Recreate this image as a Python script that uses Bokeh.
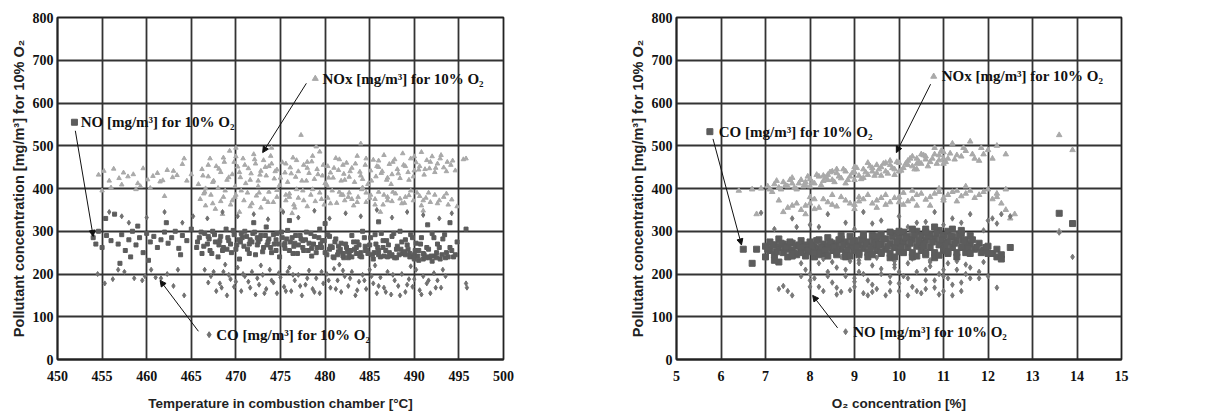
from bokeh.plotting import figure
from bokeh.layouts import row
from bokeh.models import Arrow, NormalHead, Label, SingleIntervalTicker, Range1d
from bokeh.embed import file_html
from bokeh.resources import INLINE

# ---------------- Left chart data (temperature in combustion chamber) ----------------
L_NOX_T = [454.6,455.2,455.8,456.3,456.9,457.4,457.9,458.5,459.0,459.6,460.1,460.7,461.2,461.8,462.3,462.9,463.4,464.0,464.5,455.0,456.0,457.2,458.8,460.4,461.5,463.0,464.2,465.0,462.0,459.3,
           465.8,466.2,466.5,466.9,467.1,467.4,467.8,468.0,468.3,468.7,469.0,469.3,469.6,469.9,470.2,470.5,470.8,471.1,471.4,471.7,472.0,472.2,472.5,472.8,473.1,473.4,473.7,474.0,474.3,474.6,474.9,475.2,475.5,475.8,476.1,476.4,476.7,477.0,477.3,477.6,477.9,478.2,478.5,478.8,479.1,479.4,479.7,480.0,480.3,480.6,480.9,481.2,481.5,481.8,482.1,482.4,482.7,483.0,483.3,483.6,483.9,484.2,484.5,484.8,485.1,485.4,485.7,486.0,486.3,486.6,486.9,487.2,487.5,487.8,488.1,488.4,488.7,489.0,489.3,489.6,489.9,490.2,490.5,490.8,491.1,491.4,491.7,492.0,492.3,492.6,492.9,493.3,493.7,494.1,494.6,495.5,495.8,484.0,479.0,470.0,
           466.0,466.6,467.2,467.7,468.3,468.8,469.4,469.9,470.4,470.9,471.3,471.8,472.3,472.8,473.2,473.7,474.2,474.6,475.1,475.6,476.0,476.5,477.0,477.5,478.0,478.4,478.9,479.4,479.9,480.3,480.8,481.3,481.8,482.2,482.7,483.2,483.7,484.1,484.6,485.1,485.6,486.0,486.5,487.0,487.5,487.9,488.4,488.9,489.4,489.9,490.3,490.8,491.3,491.8,492.3,492.8,493.3,493.8,494.2,494.8,468.5,476.3,486.2,491.0]
L_NOX_V = [432,441,418,446,424,437,428,433,412,447,421,429,436,419,443,426,431,457,418,395,402,409,398,401,416,441,470,433,382,405,
           410,445,392,428,470,415,452,401,438,462,420,488,433,405,451,426,470,412,447,435,480,458,418,441,466,430,452,495,423,444,408,461,437,415,449,472,427,440,525,455,418,436,463,422,445,486,430,412,452,437,425,471,443,418,434,460,427,448,415,476,439,422,455,410,442,467,428,450,436,478,420,457,433,468,445,424,482,452,438,470,428,461,444,485,432,466,447,475,438,458,470,449,462,455,442,468,470,505,498,495,
           375,360,385,352,370,395,362,380,345,372,390,365,383,355,375,392,368,380,350,372,388,362,378,395,358,385,370,390,362,378,395,366,385,372,390,360,380,398,368,385,375,392,362,380,370,388,376,366,384,372,390,360,378,368,385,372,380,362,374,358,340,342,345,348]
L_NOX_MORE = [(466.3,430),(466.9,455),(467.5,418),(468.1,446),(468.6,472),(469.2,426),(469.8,462),(470.4,438),(471.0,455),(471.6,420),(472.1,468),(472.7,432),(473.3,450),(473.9,476),(474.4,440),(475.0,425),(475.6,458),(476.2,435),(476.8,466),(477.4,418),(478.0,448),(478.6,476),(479.2,433),(479.8,455),(480.4,425),(481.0,448),(481.6,468),(482.2,420),(482.8,440),(483.4,458),(484.0,430),(484.6,470),(485.2,418),(485.8,452),(486.4,440),(487.0,425),(487.6,462),(488.2,435),(488.8,455),(489.4,420),(490.0,475),(490.6,452),(491.2,445),(491.8,462),(492.4,448),(493.0,478),(493.6,440),(494.3,465),(470.0,475),(474.0,458),(478.0,462),(482.0,455),(486.0,465),(490.0,442),(472.5,405),(480.2,408),(487.4,410),(466.6,400),(476.8,398),(484.2,402),
              (466.4,388),(467.4,365),(468.6,380),(469.6,372),(470.6,395),(471.6,358),(472.6,390),(473.6,368),(474.6,396),(475.6,385),(476.6,355),(477.6,372),(478.6,398),(479.6,375),(480.6,365),(481.6,392),(482.6,380),(483.6,368),(484.6,390),(485.6,362),(486.6,385),(487.6,392),(488.6,365),(489.6,395),(490.6,382),(491.6,390),(492.6,365),(493.6,388),(483.0,375),(485.0,378),(487.0,372),(489.0,380),(491.0,372),(482.0,385),(476.0,380),(470.0,385)]

L_NO_T = [454.0,454.3,454.6,455.0,455.5,456.0,456.4,456.8,457.2,457.6,458.0,458.4,458.8,459.2,459.6,460.0,460.4,460.8,461.2,461.6,462.0,462.4,462.8,463.2,463.6,464.0,464.5,465.0,457.0,458.2,460.2,459.0,462.2,455.4,463.8,
          465.6,465.9,466.2,466.5,466.8,467.1,467.4,467.7,468.0,468.3,468.6,468.9,469.2,469.5,469.8,470.1,470.4,470.7,471.0,471.3,471.6,471.9,472.2,472.5,472.8,473.1,473.4,473.7,474.0,474.3,474.6,474.9,475.2,475.5,475.8,476.1,476.4,476.7,477.0,477.3,477.6,477.9,478.2,478.5,478.8,479.1,479.4,479.7,480.0,480.3,480.6,480.9,481.2,481.5,481.8,482.1,482.4,482.7,483.0,483.3,483.6,483.9,484.2,484.5,484.8,485.1,485.4,485.7,486.0,486.3,486.6,486.9,487.2,487.5,487.8,488.1,488.4,488.7,489.0,489.3,489.6,489.9,490.2,490.5,490.8,491.1,491.4,491.7,492.0,492.3,492.6,492.9,493.2,493.6,494.0,494.4,494.8,495.8,
          467.0,468.1,469.0,470.5,471.5,472.4,473.5,474.5,475.5,476.5,477.5,478.5,479.5,480.5,481.5,482.5,483.5,484.5,485.5,486.5,487.5,488.5,489.5,490.5,491.5,492.5,493.5,481.0,482.0,487.0,490.0,491.0,
          472.0,476.0,480.0,486.0,491.5,494.0]
L_NO_V = [285,270,300,262,290,278,340,270,292,255,280,300,268,285,250,295,275,288,262,280,298,272,285,300,260,290,278,305,225,240,232,312,320,330,245,
          262,285,248,295,270,255,300,275,240,288,262,305,278,250,292,268,235,285,300,258,280,295,245,275,290,262,310,282,250,270,295,240,285,260,302,275,248,290,268,282,255,298,272,242,288,262,305,278,250,292,265,240,282,252,272,238,262,245,290,258,275,242,300,265,248,285,235,270,255,295,242,278,250,288,238,265,300,248,280,258,292,240,272,232,285,245,262,238,295,242,270,235,282,250,262,240,275,305,
          282,268,258,275,270,285,268,280,272,265,278,260,270,258,265,252,262,255,250,262,245,258,248,255,240,250,238,238,248,240,245,235,
          320,325,318,322,315,320]
L_NO_MORE = [(465.7,275),(466.1,298),(466.4,265),(466.9,288),(467.3,248),(467.6,292),(468.2,278),(468.5,255),(469.1,285),(469.4,270),(469.7,302),(470.0,258),(470.3,280),(470.6,295),(470.9,265),(471.2,288),(471.5,248),(471.8,275),(472.1,298),(472.4,268),(472.7,282),(473.0,252),(473.3,290),(473.6,275),(473.9,262),(474.2,292),(474.5,255),(474.8,270),(475.1,298),(475.4,268),(475.7,282),(476.0,255),(476.3,285),(476.6,272),(476.9,248),(477.2,290),(477.5,262),(477.8,280),(478.1,255),(478.4,295),(478.7,270),(479.0,250),(479.3,285),(479.6,262),(479.9,278),(480.2,245),(480.5,288),(480.8,262),(481.1,275),(481.4,245),(481.7,258),(482.0,242),(482.3,270),(482.6,238),(482.9,255),(483.2,275),(483.5,248),(483.8,268),(484.1,240),(484.4,285),(484.7,255),(485.0,268),(485.3,245),(485.6,292),(485.9,262),(486.2,240),(486.5,278),(486.8,255),(487.1,268),(487.4,242),(487.7,295),(488.0,258),(488.3,245),(488.6,275),(488.9,252),(489.2,268),(489.5,240),(489.8,285),(490.1,255),(490.4,242),(490.7,270),(491.0,248),(491.3,238),(491.6,258),(491.9,242),(492.2,285),(492.5,238),(492.8,262),(493.1,245),(493.4,292),(493.8,240),(494.2,255),(494.6,245),(483.0,240),(484.0,250),(486.0,245),(488.0,238),(489.0,245),(490.0,235),(492.0,230)]

L_CO_T = [454.5,455.3,456.2,457.5,458.6,459.5,460.5,461.0,461.6,462.3,463.0,464.2,455.8,457.2,458.0,460.0,462.0,464.0,465.2,456.8,459.8,463.5,
          466.5,467.2,467.8,468.2,468.6,469.0,469.4,469.8,470.2,470.6,471.0,471.4,471.8,472.2,472.6,473.0,473.4,473.8,474.2,474.6,475.0,475.4,475.8,476.2,476.6,477.0,477.4,477.8,478.2,478.6,479.0,479.4,479.8,480.2,480.6,481.0,481.4,481.8,482.2,482.6,483.0,483.4,483.8,484.2,484.6,485.0,485.4,485.8,486.2,486.6,487.0,487.4,487.8,488.2,488.6,489.0,489.4,489.8,490.2,490.6,491.0,491.4,491.8,492.2,492.6,493.0,493.5,495.8,495.9,
          466.8,468.5,470.2,472.0,473.6,475.3,477.0,478.8,480.5,482.3,484.0,485.8,487.5,489.2,491.0,492.8,494.2]
L_CO_V = [200,178,188,205,190,185,210,192,190,200,172,150,345,335,320,332,345,320,335,210,195,210,
          210,195,160,178,205,150,188,170,215,160,195,182,205,152,175,198,165,210,180,155,192,170,205,160,185,198,150,175,208,165,190,155,178,200,168,212,185,158,195,172,205,150,182,198,165,210,178,155,192,168,205,152,185,172,200,158,188,170,210,162,195,178,155,202,185,168,195,178,168,
          330,345,335,340,328,345,332,348,330,342,335,350,332,345,338,330,342]
L_CO_MORE = [(466.9,180),(467.5,205),(468.4,168),(469.2,198),(470.0,182),(470.8,200),(471.6,168),(472.4,190),(473.2,155),(474.0,185),(474.8,202),(475.6,160),(476.4,198),(477.2,172),(478.0,190),(478.8,158),(479.6,205),(480.4,185),(481.2,165),(482.0,208),(482.8,190),(483.6,162),(484.4,185),(485.2,195),(486.0,172),(486.8,158),(487.6,198),(488.4,150),(489.2,175),(490.0,188),(490.8,152),(491.6,185),(492.4,168),(493.2,210),(481.6,222),(485.6,220),(489.6,218),(476.0,215),(472.8,220),(468.8,222)]

# ---------------- Right chart data (O2 concentration) ----------------
R_NOX_O = [6.9,7.1,7.2,7.3,7.4,7.5,7.6,7.7,7.8,7.9,8.0,8.1,8.2,8.3,8.4,8.5,8.6,8.7,8.8,8.9,9.0,9.1,9.2,9.3,9.4,9.5,9.6,9.7,9.8,9.9,10.0,10.1,10.2,10.3,10.4,10.5,10.6,10.7,10.8,10.9,11.0,11.1,11.3,11.5,11.7,11.9,8.0,8.5,9.0,9.5,10.0,10.5,7.6,8.3,9.2,9.8,10.3,10.8,11.2,11.6,12.0,12.2,13.6,13.9,8.8,9.6,10.4,11.0,11.4,11.8,12.4,6.4,6.7,
           7.4,7.6,7.8,8.0,8.2,8.4,8.6,8.8,9.0,9.2,9.4,9.6,9.8,10.0,10.2,10.4,10.6,10.8,11.0,11.2,11.4,11.6,11.8,12.0,12.2,12.4,12.3,12.4,12.5,12.6,8.5,9.1,9.7,10.3,10.9,11.5,8.1,7.9,7.3,6.8,9.5,10.1,10.7,11.3,12.1,13.6]
R_NOX_V = [400,398,410,402,415,405,412,398,420,408,422,412,428,418,432,420,436,424,440,428,438,430,445,432,448,436,450,440,455,445,460,448,465,452,470,458,475,462,480,466,485,470,478,488,470,480,405,440,420,455,440,480,425,430,425,465,475,495,505,510,490,500,525,490,412,430,445,458,475,465,480,395,398,
           345,360,350,365,355,368,358,372,362,375,365,378,368,380,370,385,374,388,378,392,382,395,385,398,388,398,365,350,330,340,385,380,385,395,400,405,375,340,372,340,355,362,360,370,375,300]
R_NOX_MORE = [(7.05,405),(7.15,392),(7.25,418),(7.35,398),(7.45,408),(7.55,420),(7.65,402),(7.75,412),(7.85,405),(7.95,428),(8.05,415),(8.15,432),(8.25,408),(8.35,425),(8.45,438),(8.55,415),(8.65,428),(8.75,445),(8.85,420),(8.95,436),(9.05,448),(9.15,422),(9.25,438),(9.35,452),(9.45,430),(9.55,445),(9.65,458),(9.75,435),(9.85,448),(9.95,462),(10.05,442),(10.15,458),(10.25,470),(10.35,445),(10.45,462),(10.55,478),(10.65,452),(10.75,470),(10.85,458),(10.95,488),(11.05,462),(11.15,482),(11.25,468),(11.45,495),(11.65,480),(11.85,495),(12.1,470),(8.4,420),(9.0,450),(9.4,440),(9.9,432),(10.2,455),(10.6,468),(11.0,470),(9.7,460),(10.9,478),(8.6,445),(9.3,460),(7.9,415),(10.4,458),
              (7.5,355),(7.7,365),(7.9,360),(8.1,352),(8.3,375),(8.5,362),(8.7,380),(8.9,365),(9.1,370),(9.3,385),(9.5,372),(9.7,362),(9.9,378),(10.1,390),(10.3,375),(10.5,388),(10.7,380),(10.9,392),(11.1,385),(11.3,395),(11.5,388),(11.7,378),(11.9,392),(12.2,380),(9.0,352),(10.0,368),(11.0,372),(8.0,380),(10.4,360)]

R_CO_O = [6.5,6.7,6.8,7.0,7.0,7.1,7.1,7.2,7.2,7.3,7.3,7.4,7.4,7.5,7.5,7.6,7.6,7.7,7.7,7.8,7.8,7.9,7.9,8.0,8.0,8.1,8.1,8.2,8.2,8.3,8.3,8.4,8.4,8.5,8.5,8.6,8.6,8.7,8.7,8.8,8.8,8.9,8.9,9.0,9.0,9.1,9.1,9.2,9.2,9.3,9.3,9.4,9.4,9.5,9.5,9.6,9.6,9.7,9.7,9.8,9.8,9.9,9.9,10.0,10.0,10.1,10.1,10.2,10.2,10.3,10.3,10.4,10.4,10.5,10.5,10.6,10.6,10.7,10.7,10.8,10.8,10.9,10.9,11.0,11.0,11.1,11.1,11.2,11.2,11.3,11.3,11.4,11.4,11.5,11.5,11.6,11.6,11.7,11.8,11.9,12.0,12.1,12.2,12.3,12.5,13.6,13.9,
          7.5,8.0,8.5,9.0,9.5,10.0,10.5,11.0,11.5,8.2,8.8,9.3,9.8,10.3,10.8,11.3,7.8,9.6,10.6,11.1,12.2,12.0,12.3,7.3]
R_CO_V = [258,225,258,265,240,275,255,268,245,262,282,250,270,258,240,272,255,265,245,278,258,268,242,275,252,262,240,280,258,270,248,265,285,255,272,245,268,282,258,275,250,265,288,255,278,245,268,285,260,275,250,290,265,280,255,270,292,258,282,248,272,295,262,285,252,275,298,262,288,250,280,300,265,290,255,278,305,262,292,250,282,302,268,290,255,275,300,262,288,250,278,295,262,280,250,270,290,258,272,255,265,248,258,245,262,342,318,
          265,262,262,265,268,270,272,272,265,245,240,240,238,240,238,240,250,248,245,248,240,248,235,228]
R_CO_MORE = [(7.05,258),(7.15,268),(7.25,252),(7.35,272),(7.45,262),(7.55,275),(7.65,248),(7.75,268),(7.85,262),(7.95,255),(8.05,268),(8.15,278),(8.25,262),(8.35,255),(8.45,275),(8.55,262),(8.65,280),(8.75,268),(8.85,255),(8.95,275),(9.05,262),(9.15,280),(9.25,270),(9.35,258),(9.45,278),(9.55,268),(9.65,282),(9.75,265),(9.85,288),(9.95,275),(10.05,262),(10.15,285),(10.25,272),(10.35,292),(10.45,278),(10.55,265),(10.65,288),(10.75,275),(10.85,295),(10.95,280),(11.05,265),(11.15,288),(11.25,272),(11.35,292),(11.45,278),(11.55,260),(11.65,280),(11.75,262),(11.85,250),(11.95,262),(8.1,250),(8.6,252),(9.1,250),(9.6,252),(10.1,250),(10.6,250),(11.1,252),(11.6,248),(8.4,242),(9.4,245),(10.4,242),(10.9,244),(9.9,240),(8.9,242),(7.6,242),(7.2,232),(9.2,292),(9.8,298),(10.3,305),(10.8,310),(11.2,305),(10.0,300),(10.6,298),(11.4,302),(8.7,290),(9.5,288)]

R_NO_O = [6.9,7.3,7.4,7.5,7.6,7.8,7.9,8.0,8.1,8.2,8.3,8.4,8.5,8.6,8.7,8.8,8.9,9.0,9.1,9.2,9.3,9.4,9.5,9.6,9.7,9.8,9.9,10.0,10.1,10.2,10.3,10.4,10.5,10.6,10.7,10.8,10.9,11.0,11.1,11.2,11.3,11.4,11.5,11.6,11.8,12.0,12.2,13.6,13.9,
          7.6,8.0,8.4,8.8,9.2,9.6,10.0,10.4,10.8,11.2,11.6,12.0,12.3,7.2,12.5,9.0,10.2,11.0,
          8.3,8.7,9.1,9.5,9.9,10.3,10.7,11.1,11.5,11.9,8.0,9.0,10.0,11.0,9.4,10.6,8.6,9.8,10.2,10.9,8.9,9.3]
R_NO_V = [343,165,172,160,150,195,210,170,190,225,160,205,180,215,158,195,230,170,205,155,185,220,165,200,150,180,215,160,195,225,170,205,155,185,218,168,200,160,190,150,210,180,200,215,190,195,168,297,240,
          330,315,340,320,345,325,335,320,345,330,340,325,340,305,335,305,310,315,
          235,240,232,238,230,236,232,225,222,228,200,190,205,210,175,165,168,160,150,152,162,150]
R_NO_MORE = [(7.8,225),(8.0,185),(8.2,170),(8.4,195),(8.6,152),(8.8,210),(9.0,182),(9.2,200),(9.4,158),(9.6,212),(9.8,195),(10.0,178),(10.2,190),(10.4,160),(10.6,210),(10.8,185),(11.0,195),(11.2,175),(11.4,160),(11.6,190),(11.8,205),(9.1,225),(9.9,222),(10.7,228),(8.5,228),(11.3,230),(8.2,310),(9.4,318),(10.6,322),(11.4,320),(12.1,330),(7.7,310),(11.9,302),(12.2,318)]

SUP_LABEL = "Pollutant concentration [mg/m³] for 10% O₂"

NOX_COLOR = "#a9a9a9"
NO_COLOR = "#5c5c5c"
CO_COLOR = "#707070"

SERIF = "Liberation Serif"
SANS = "Liberation Sans"


def merged(xs, ys, more):
    return list(xs) + [m[0] for m in more], list(ys) + [m[1] for m in more]


def base_fig(xr, xstep, frame_w, bl, br, xlabel):
    p = figure(frame_width=frame_w, frame_height=342, x_range=Range1d(*xr), y_range=Range1d(0, 800),
               output_backend="svg", toolbar_location=None,
               min_border_left=bl, min_border_right=br, min_border_top=17, min_border_bottom=46)
    p.xaxis.ticker = SingleIntervalTicker(interval=xstep)
    p.yaxis.ticker = SingleIntervalTicker(interval=100)
    p.xgrid.ticker = SingleIntervalTicker(interval=xstep)
    p.ygrid.ticker = SingleIntervalTicker(interval=100)
    for g in (p.xgrid, p.ygrid):
        g.grid_line_color = "#333333"
        g.grid_line_width = 1.8
    p.outline_line_color = "#222222"
    p.outline_line_width = 1.8
    for ax in (p.xaxis, p.yaxis):
        ax.axis_line_color = "#222222"
        ax.axis_line_width = 1.8
        ax.major_tick_in = 0
        ax.major_tick_out = 0
        ax.minor_tick_in = 0
        ax.minor_tick_out = 0
        ax.major_label_text_font = SERIF
        ax.major_label_text_font_style = "bold"
        ax.major_label_text_font_size = "14px"
        ax.major_label_text_color = "#111111"
        ax.axis_label_text_font = SANS
        ax.axis_label_text_font_style = "bold"
        ax.axis_label_text_color = "#222222"
    p.xaxis.axis_label_text_font_size = "13.5px"
    p.yaxis.axis_label_text_font_size = "14.5px"
    p.xaxis.axis_label = xlabel
    p.yaxis.axis_label = SUP_LABEL
    p.xaxis.major_label_standoff = 11
    p.xaxis.axis_label_standoff = 12
    p.yaxis.major_label_standoff = 4
    p.yaxis.axis_label_standoff = 3
    p.background_fill_color = "white"
    p.border_fill_color = "white"
    return p


def annotate(p, mx, my, marker, color, text, ax0, ay0, ax1, ay1, tx):
    p.scatter([mx], [my], marker=marker, size=6, color=color)
    p.add_layout(Label(x=tx, y=my, text=text, text_font=SERIF, text_font_style="bold",
                       text_font_size="15px", text_color="#111111", text_baseline="middle"))
    p.add_layout(Arrow(end=NormalHead(size=6, fill_color="#111111", line_color="#111111"),
                       x_start=ax0, y_start=ay0, x_end=ax1, y_end=ay1,
                       line_color="#111111", line_width=1))


# Left chart
p1 = base_fig((450, 500), 5, 446, 57, 108, "Temperature in combustion chamber [°C]")
x, y = merged(L_NOX_T, L_NOX_V, L_NOX_MORE)
p1.scatter(x, y, marker="triangle", size=4.5, color=NOX_COLOR)
x, y = merged(L_CO_T, L_CO_V, L_CO_MORE)
p1.scatter(x, y, marker="diamond", size=5, color=CO_COLOR)
x, y = merged(L_NO_T, L_NO_V, L_NO_MORE)
p1.scatter(x, y, marker="square", size=4, color=NO_COLOR)
annotate(p1, 451.9, 555, "square", NO_COLOR, "NO [mg/m³] for 10% O₂", 452.0, 535, 454.0, 288, 452.6)
annotate(p1, 478.9, 657, "triangle", NOX_COLOR, "NOx [mg/m³] for 10% O₂", 477.9, 646, 473.0, 484, 479.7)
annotate(p1, 467.0, 58, "diamond", CO_COLOR, "CO [mg/m³] for 10% O₂", 465.8, 66, 461.5, 185, 467.8)

# Right chart
p2 = base_fig((5, 15), 1, 445, 65, 88, "O₂ concentration [%]")
x, y = merged(R_NOX_O, R_NOX_V, R_NOX_MORE)
p2.scatter(x, y, marker="triangle", size=5.5, color=NOX_COLOR)
x, y = merged(R_NO_O, R_NO_V, R_NO_MORE)
p2.scatter(x, y, marker="diamond", size=5.5, color="#787878")
x, y = merged(R_CO_O, R_CO_V, R_CO_MORE)
p2.scatter(x, y, marker="square", size=6, color=NO_COLOR)
annotate(p2, 5.75, 533, "square", NO_COLOR, "CO [mg/m³] for 10% O₂", 5.82, 516, 6.46, 268, 5.95)
annotate(p2, 10.78, 662, "triangle", NOX_COLOR, "NOx [mg/m³] for 10% O₂", 10.71, 644, 9.94, 484, 10.96)
annotate(p2, 8.80, 65, "diamond", "#787878", "NO [mg/m³] for 10% O₂", 8.62, 74, 8.06, 150, 8.97)

layout = row(p1, p2)
open("out.html", "w").write(file_html(layout, INLINE))
